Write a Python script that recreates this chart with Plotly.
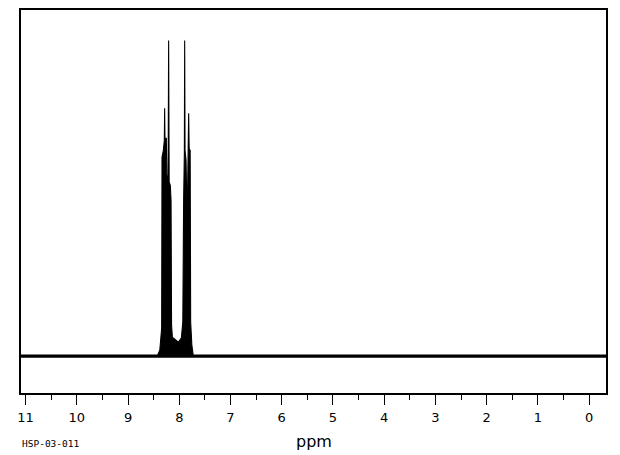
import plotly.graph_objects as go

# Spectrum envelope (ppm, relative intensity; baseline = 0)
ppm = [11.09, 8.428, 8.380, 8.360, 8.344, 8.337, 8.311, 8.292, 8.286, 8.280,
       8.253, 8.243, 8.218, 8.208, 8.198, 8.175, 8.161, 8.151, 8.135, 8.077,
       8.018, 7.960, 7.931, 7.915, 7.901, 7.895, 7.888, 7.868, 7.856, 7.839,
       7.827, 7.817, 7.807, 7.788, 7.778, 7.755, 7.726, -0.33]
intensity = [0, 0, 1.9, 5.7, 8.9, 63.0, 65.2, 68.4, 78.5, 69.0,
             69.0, 57.3, 55.7, 100, 55.1, 54.1, 49.4, 9.8, 6.0, 5.1,
             4.4, 5.7, 10.8, 49.4, 64.6, 100, 65.2, 62.0, 50.9, 50.9,
             62.7, 76.9, 65.8, 65.2, 10.8, 3.5, 0, 0]

# Baseline (noise band) extent
base_ppm = [11.09, -0.33]
base_int = [0, 0]

major_ticks = [11, 10, 9, 8, 7, 6, 5, 4, 3, 2, 1, 0]
tick_labels = [str(t) for t in major_ticks]

x_title = "ppm"
sample_id = "HSP-03-011"

fig = go.Figure()
fig.add_trace(go.Scatter(x=base_ppm, y=base_int, mode="lines",
                         line=dict(color="black", width=3.2), hoverinfo="skip"))
fig.add_trace(go.Scatter(x=ppm, y=intensity, mode="lines",
                         line=dict(color="black", width=1.1),
                         fill="tozeroy", fillcolor="black", hoverinfo="skip"))

# The page body adds an 8px offset; size the figure to compensate.
fig.update_layout(
    width=612, height=447,
    margin=dict(l=13, r=14, t=2, b=62, autoexpand=False),
    paper_bgcolor="white", plot_bgcolor="white",
    showlegend=False,
    font=dict(family="DejaVu Sans", color="black"),
)
fig.update_xaxes(
    range=[11.09, -0.33], automargin=False,
    tickmode="array", tickvals=major_ticks, ticktext=tick_labels,
    ticks="outside", ticklen=10, tickwidth=1, tickcolor="black",
    minor=dict(dtick=0.5, ticks="outside", ticklen=5, tickwidth=1, tickcolor="black"),
    showline=True, linecolor="black", linewidth=1.5, mirror=True,
    showgrid=False, zeroline=False,
    tickfont=dict(family="DejaVu Sans", size=13, color="black"),
    ticklabelstandoff=2,
)
fig.update_yaxes(
    range=[-11.7, 109.65], automargin=False,
    showticklabels=False, ticks="",
    showline=True, linecolor="black", linewidth=1.5, mirror=True,
    showgrid=False, zeroline=False,
)
fig.add_annotation(text=x_title, xref="paper", yref="paper",
                   x=0.5, y=-0.127, yanchor="middle", showarrow=False,
                   font=dict(family="DejaVu Sans", size=16, color="black"))
fig.add_annotation(text=sample_id, xref="paper", yref="paper",
                   x=-0.001, xanchor="left", y=-0.131, yanchor="middle", showarrow=False,
                   font=dict(family="DejaVu Sans Mono", size=9.5, color="black"))

fig.write_html("out.html")
